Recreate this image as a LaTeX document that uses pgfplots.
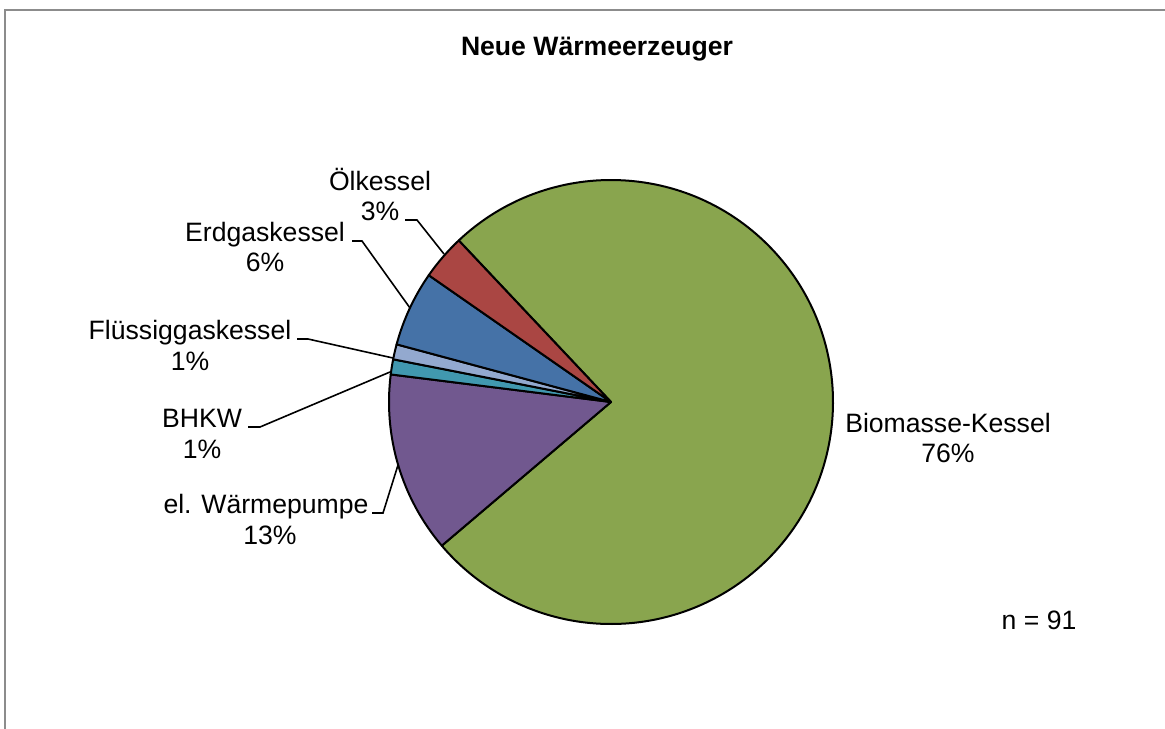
\documentclass[border=0pt]{standalone}
\usepackage{pgfplots}
\pgfplotsset{compat=1.18}
\usepackage{pgfplotstable}
\usepackage{fontspec}
\setmainfont{Liberation Sans}

\definecolor{cBio}{HTML}{89A54E}
\definecolor{cWP}{HTML}{71588F}
\definecolor{cBHKW}{HTML}{4198AF}
\definecolor{cFl}{HTML}{93A9CF}
\definecolor{cErd}{HTML}{4572A7}
\definecolor{cOel}{HTML}{AA4643}

% counts of new heat generators (n = 91), clockwise order
\pgfplotstableread{
idx count
0 69
1 12
2 1
3 1
4 5
5 3
}\piedata

\newcommand\getc[2]{\pgfplotstablegetelem{#1}{count}\of\piedata\edef#2{\pgfplotsretval}}
\getc{0}\cA \getc{1}\cB \getc{2}\cC \getc{3}\cD \getc{4}\cE \getc{5}\cF
\pgfmathsetmacro\ntot{\cA+\cB+\cC+\cD+\cE+\cF}
\pgfmathsetmacro\aA{133.3}
\pgfmathsetmacro\aB{\aA-\cA/\ntot*360}
\pgfmathsetmacro\aC{\aB-\cB/\ntot*360}
\pgfmathsetmacro\aD{\aC-\cC/\ntot*360}
\pgfmathsetmacro\aE{\aD-\cD/\ntot*360}
\pgfmathsetmacro\aF{\aE-\cE/\ntot*360}
\pgfmathsetmacro\aG{\aF-\cF/\ntot*360}

\begin{document}
\begin{tikzpicture}[font=\fontsize{13.3}{15.5}\selectfont]
\useasboundingbox (0,0) rectangle (582.5pt,364pt);
\begin{axis}[width=582.5pt, height=364pt, scale only axis,
  xmin=0, xmax=1165, ymin=0, ymax=728, y dir=reverse,
  hide axis, clip=false]
% border
\draw[color=black!45, line width=1pt] (axis cs:5,740) -- (axis cs:5,10) -- (axis cs:1170,10);
% title
\node[anchor=base, font=\fontsize{13.3}{15.5}\selectfont\bfseries] at (axis cs:597,55) {Neue Wärmeerzeuger};
% slices
\filldraw[fill=cBio, line width=1pt, line join=round] (axis cs:611,402) -- ++(\aA:111pt) arc[start angle=\aA, end angle=\aB, radius=111pt] -- cycle;
\filldraw[fill=cWP, line width=1pt, line join=round] (axis cs:611,402) -- ++(\aB:111pt) arc[start angle=\aB, end angle=\aC, radius=111pt] -- cycle;
\filldraw[fill=cBHKW, line width=1pt, line join=round] (axis cs:611,402) -- ++(\aC:111pt) arc[start angle=\aC, end angle=\aD, radius=111pt] -- cycle;
\filldraw[fill=cFl, line width=1pt, line join=round] (axis cs:611,402) -- ++(\aD:111pt) arc[start angle=\aD, end angle=\aE, radius=111pt] -- cycle;
\filldraw[fill=cErd, line width=1pt, line join=round] (axis cs:611,402) -- ++(\aE:111pt) arc[start angle=\aE, end angle=\aF, radius=111pt] -- cycle;
\filldraw[fill=cOel, line width=1pt, line join=round] (axis cs:611,402) -- ++(\aF:111pt) arc[start angle=\aF, end angle=\aG, radius=111pt] -- cycle;
% leader lines
\draw[line width=0.8pt] (axis cs:405,220) -- (axis cs:417,220) -- (axis cs:444,254);
\draw[line width=0.8pt] (axis cs:352,241) -- (axis cs:362,241) -- (axis cs:410,308);
\draw[line width=0.8pt] (axis cs:297,339) -- (axis cs:308,339) -- (axis cs:393,358);
\draw[line width=0.8pt] (axis cs:248,427) -- (axis cs:260,427) -- (axis cs:390,372);
\draw[line width=0.8pt] (axis cs:372,513) -- (axis cs:383,513) -- (axis cs:398,465);
% labels
\node[anchor=base] at (axis cs:380,190) {Ölkessel};
\node[anchor=base] at (axis cs:380,220) {3\%};
\node[anchor=base] at (axis cs:265,241) {Erdgaskessel};
\node[anchor=base] at (axis cs:265,271) {6\%};
\node[anchor=base] at (axis cs:190,339) {Flüssiggaskessel};
\node[anchor=base] at (axis cs:190,370) {1\%};
\node[anchor=base] at (axis cs:202,427) {BHKW};
\node[anchor=base] at (axis cs:202,458) {1\%};
\node[anchor=base] at (axis cs:266,513) {el. Wärmepumpe};
\node[anchor=base] at (axis cs:270,544) {13\%};
\node[anchor=base] at (axis cs:948,432) {Biomasse-Kessel};
\node[anchor=base] at (axis cs:948,462) {76\%};
\node[anchor=base] at (axis cs:1039,629) {n = 91};
\end{axis}
\end{tikzpicture}
\end{document}
